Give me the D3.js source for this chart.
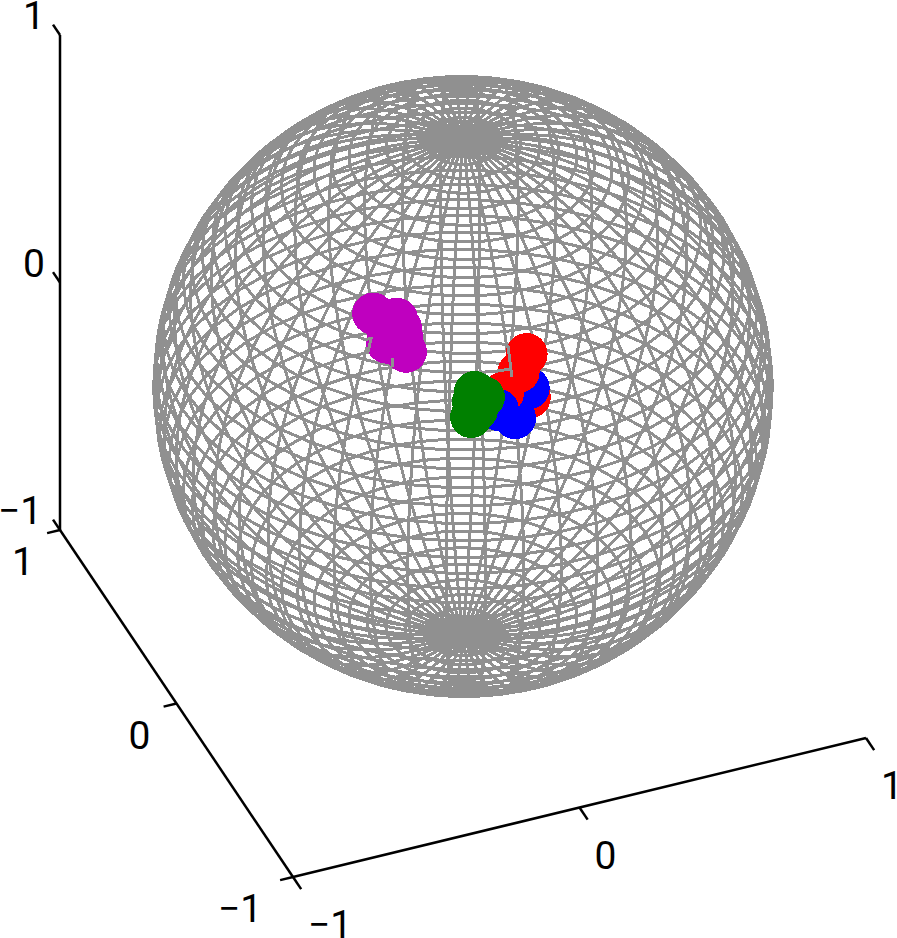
<!DOCTYPE html>
<html>
<head>
<meta charset="utf-8">
<script src="https://cdnjs.cloudflare.com/ajax/libs/d3/7.8.5/d3.min.js"></script>
<style>
  html, body { margin: 0; padding: 0; background: #fff; }
  svg { display: block; }
  text { font-family: Roboto, sans-serif; font-size: 39px; fill: #000; }
</style>
</head>
<body>
<svg id="chart" width="897" height="938"></svg>
<script>
const MESH_COLOR = "#909090";
const RED = "#ff0000";
const BLUE = "#0000ff";
const GREEN = "#008000";
const PURPLE = "#bf00bf";

const MESH_FACES = 50;
const TICK_VALUES = [-1, 0, 1];

// points on the unit sphere, [x, y, z], layers in the order they were plotted
const redUnder = [[-0.101, -0.822, 0.561]];
const blueUnder = [[-0.098, -0.805, 0.585], [-0.162, -0.845, 0.51]];
const redOver = [
  [-0.183, -0.793, 0.581],
  [-0.118, -0.768, 0.63],
  [-0.078, -0.738, 0.67]
];
const blueOver = [[-0.21, -0.817, 0.537]];
const greenPoints = [
  [-0.269, -0.763, 0.588],
  [-0.245, -0.782, 0.574],
  [-0.281, -0.777, 0.564],
  [-0.275, -0.796, 0.54],
  [-0.297, -0.8, 0.521]
];
const purplePoints = [
  [-0.495, -0.446, 0.746],
  [-0.435, -0.502, 0.748],
  [-0.432, -0.53, 0.73],
  [-0.437, -0.552, 0.711],
  [-0.484, -0.538, 0.69],
  [-0.439, -0.59, 0.677],
  [-0.473, -0.495, 0.729]
];

// bits of mesh that poke through the markers
const meshOnTop = [
  [[-0.13, -0.705, 0.698], [-0.143, -0.772, 0.619]],
  [[-0.186, -0.747, 0.638], [-0.14, -0.756, 0.64]],
  [[-0.546, -0.486, 0.683], [-0.524, -0.499, 0.691], [-0.543, -0.521, 0.659]],
  [[-0.483, -0.579, 0.657], [-0.49, -0.597, 0.636]]
];

var svg = d3.select("#chart");

// oblique view: each data axis adds its own screen offset
var cx = 463,
  cy = 386.5,
  xAcross = d3.scaleLinear().domain([-1, 1]).range([-286.5, 286.5]),
  xDown = d3.scaleLinear().domain([-1, 1]).range([69.5, -69.5]),
  yAcross = d3.scaleLinear().domain([-1, 1]).range([116.5, -116.5]),
  yDown = d3.scaleLinear().domain([-1, 1]).range([173.5, -173.5]),
  zDown = d3.scaleLinear().domain([-1, 1]).range([247.5, -247.5]);

function project(p) {
  return [
    cx + xAcross(p[0]) + yAcross(p[1]),
    cy + xDown(p[0]) + yDown(p[1]) + zDown(p[2])
  ];
}

var line = d3.line();

function spherePoint(lon, lat) {
  return [Math.cos(lat) * Math.cos(lon), Math.cos(lat) * Math.sin(lon), Math.sin(lat)];
}

// wireframe, same layout as a MATLAB sphere(n) mesh
var lons = d3.range(MESH_FACES + 1).map(function(i) {
  return -Math.PI + (2 * Math.PI * i) / MESH_FACES;
});
var lats = d3.range(MESH_FACES + 1).map(function(i) {
  return -Math.PI / 2 + (Math.PI * i) / MESH_FACES;
});

var meshLines = [];
lats.forEach(function(lat) {
  meshLines.push(lons.map(function(lon) { return spherePoint(lon, lat); }));
});
lons.forEach(function(lon) {
  meshLines.push(lats.map(function(lat) { return spherePoint(lon, lat); }));
});

function drawMesh(lines) {
  svg.append("g")
    .attr("fill", "none")
    .attr("stroke", MESH_COLOR)
    .attr("stroke-width", 3)
    .attr("shape-rendering", "crispEdges")
    .selectAll("path")
    .data(lines)
    .enter()
    .append("path")
    .attr("d", function(d) { return line(d.map(project)); });
}

drawMesh(meshLines);

function drawMarkers(points, color) {
  svg.append("g")
    .attr("fill", color)
    .attr("shape-rendering", "crispEdges")
    .selectAll("circle")
    .data(points)
    .enter()
    .append("circle")
    .attr("cx", function(d) { return project(d)[0]; })
    .attr("cy", function(d) { return project(d)[1]; })
    .attr("r", 21);
}

drawMarkers(redUnder, RED);
drawMarkers(blueUnder, BLUE);
drawMarkers(redOver, RED);
drawMarkers(blueOver, BLUE);
drawMarkers(greenPoints, GREEN);
drawMarkers(purplePoints, PURPLE);

drawMesh(meshOnTop);

// axes run along the box edges, ticks point along the neighbouring axis
var axes = [
  { at: function(v) { return [v, -1, -1]; }, tick: [0, -0.07, 0], labelDx: 26, labelDy: 61, minusDx: 11 },
  { at: function(v) { return [-1, v, -1]; }, tick: [-0.045, 0, 0], labelDx: -37, labelDy: 45, minusDx: -16 },
  { at: function(v) { return [-1, 1, v]; }, tick: [0, 0.06, 0], labelDx: -26, labelDy: -6, minusDx: -14 }
];

var axisGroup = svg.append("g")
  .attr("fill", "none")
  .attr("stroke", "#000")
  .attr("stroke-width", 2.5);

axes.forEach(function(axis) {
  axisGroup.append("path").attr("d", line([axis.at(-1), axis.at(1)].map(project)));

  TICK_VALUES.forEach(function(v) {
    var start = axis.at(v);
    var end = [start[0] + axis.tick[0], start[1] + axis.tick[1], start[2] + axis.tick[2]];
    axisGroup.append("path").attr("d", line([start, end].map(project)));

    var pos = project(start);
    svg.append("text")
      .attr("x", pos[0] + axis.labelDx + (v < 0 ? axis.minusDx : 0))
      .attr("y", pos[1] + axis.labelDy)
      .attr("text-anchor", "middle")
      .text(v < 0 ? "\u2212" + Math.abs(v) : v);
  });
});
</script>
</body>
</html>
